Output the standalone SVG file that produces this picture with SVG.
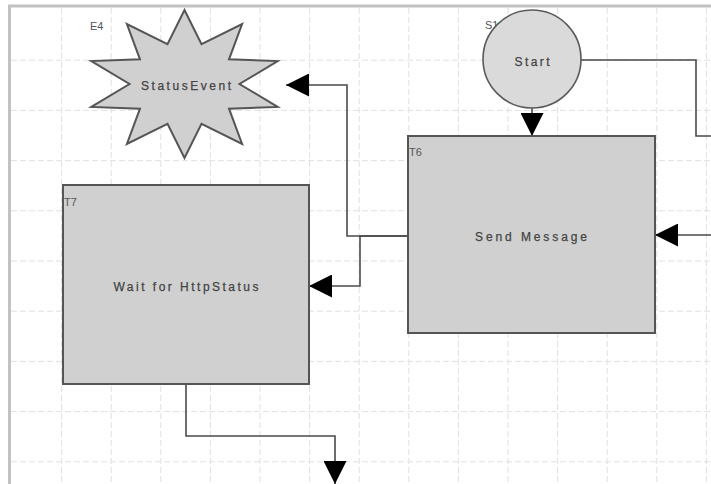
<svg xmlns="http://www.w3.org/2000/svg" width="711" height="484" viewBox="0 0 711 484">
  <defs>
    <style>
      .grid { fill: none; stroke: #e0e0e0; stroke-width: 1; stroke-dasharray: 6 3; }
      .frame { fill: none; stroke: #c2c2c2; stroke-width: 3; }
      .shape { fill: #d0d0d0; stroke: #555555; stroke-width: 2; }
      .circle { fill: #dadada; stroke: #5a5a5a; stroke-width: 1.6; }
      .wire { fill: none; stroke: #4a4a4a; stroke-width: 1.6; }
      .label { font-family: "Liberation Sans", Arial, sans-serif; font-size: 12px; fill: #444444; stroke: #444444; stroke-width: 0.25; text-anchor: middle; }
      .tag { font-family: "Liberation Sans", Arial, sans-serif; font-size: 11px; fill: #555555; }
    </style>
    <marker id="arrow" viewBox="0 0 24 24" refX="24" refY="12" markerWidth="24" markerHeight="23" markerUnits="userSpaceOnUse" orient="auto">
      <path d="M0,0 L24,12 L0,24 Z" fill="#000000"/>
    </marker>
  </defs>

  <rect width="711" height="484" fill="#ffffff"/>

  <!-- background grid -->
  <path class="grid" d="M61.6,8 V484 M111.2,8 V484 M160.8,8 V484 M210.4,8 V484 M260,8 V484 M309.6,8 V484 M359.2,8 V484 M408.8,8 V484 M458.4,8 V484 M508,8 V484 M557.6,8 V484 M607.2,8 V484 M656.8,8 V484 M706.4,8 V484
    M11,60.2 H711 M11,110.4 H711 M11,160.6 H711 M11,210.8 H711 M11,261 H711 M11,311.2 H711 M11,361.4 H711 M11,411.6 H711 M11,461.8 H711"/>
  <path class="frame" d="M8,6 H711 M9.5,5 V484"/>

  <!-- connectors -->
  <g id="connectors">
    <path class="wire" d="M532,108 V136" marker-end="url(#arrow)"/>
    <path class="wire" d="M581,60 H696 V136 H711"/>
    <path class="wire" d="M711,235 H655" marker-end="url(#arrow)"/>
    <path class="wire" d="M408,236 H347 V85 H286" marker-end="url(#arrow)"/>
    <path class="wire" d="M408,236 H360 V286 H309" marker-end="url(#arrow)"/>
    <path class="wire" d="M186,384 V436 H335 V484" marker-end="url(#arrow)"/>
  </g>

  <!-- event E4 -->
  <g id="E4">
    <text class="tag" x="90" y="30">E4</text>
    <path class="shape" stroke-width="1.6" d="M184.5,10 L201.5,44.1 L242.1,24.1 L229,59.3 L277.7,61.1 L239.5,84 L277.7,106.9 L229,108.7 L242.1,143.9 L201.5,123.9 L184.5,158 L167.5,123.9 L126.9,143.9 L140,108.7 L91.3,106.9 L129.5,84 L91.3,61.1 L140,59.3 L126.9,24.1 L167.5,44.1 Z"/>
    <text class="label" x="186" y="90" textLength="90" lengthAdjust="spacing">StatusEvent</text>
  </g>

  <!-- start S1 -->
  <g id="S1">
    <text class="tag" x="485" y="29">S1</text>
    <circle class="circle" cx="532" cy="59" r="49"/>
    <text class="label" x="532" y="66" textLength="35" lengthAdjust="spacing">Start</text>
  </g>

  <!-- task T6 -->
  <g id="T6">
    <rect class="shape" x="408" y="136" width="247" height="197"/>
    <text class="tag" x="409" y="156">T6</text>
    <text class="label" x="531" y="241" textLength="112" lengthAdjust="spacing">Send Message</text>
  </g>

  <!-- task T7 -->
  <g id="T7">
    <rect class="shape" x="63" y="185" width="246" height="199"/>
    <text class="tag" x="64" y="206">T7</text>
    <text class="label" x="186" y="291" textLength="145" lengthAdjust="spacing">Wait for HttpStatus</text>
  </g>
</svg>
